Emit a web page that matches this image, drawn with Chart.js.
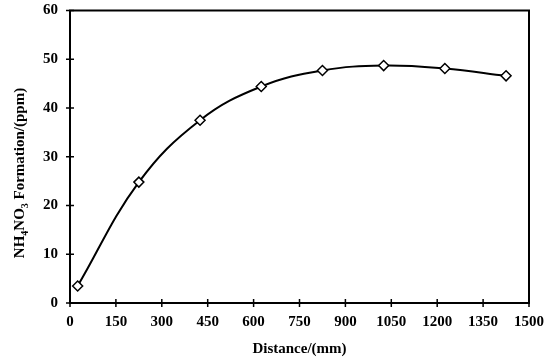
<!DOCTYPE html>
<html>
<head>
<meta charset="utf-8">
<script src="https://cdn.jsdelivr.net/npm/chart.js@4/dist/chart.umd.min.js"></script>
<style>
  html, body { margin: 0; padding: 0; background: #fff; }
  #wrap { width: 550px; height: 358px; }
</style>
</head>
<body>
<div id="wrap"><canvas id="c" width="550" height="358"></canvas></div>
<script>
// data
const distances = [25, 225, 425, 625, 825, 1025, 1225, 1425];
const nh4no3 = [3.5, 24.8, 37.5, 44.4, 47.7, 48.7, 48.1, 46.6];
const xTicks = [0, 150, 300, 450, 600, 750, 900, 1050, 1200, 1350, 1500];
const yTicks = [0, 10, 20, 30, 40, 50, 60];

const FONT = '"Liberation Serif", "Times New Roman", serif';

// frame, crossing ticks and the subscripted y title
const framePlugin = {
  id: 'frame',
  afterDraw(chart){
    const {ctx, chartArea:a, scales:{x, y}} = chart;
    ctx.save();
    ctx.strokeStyle = '#000';
    ctx.lineWidth = 2;
    ctx.strokeRect(a.left, a.top, a.right - a.left, a.bottom - a.top);
    ctx.lineWidth = 1.5;
    ctx.beginPath();
    xTicks.forEach(v => { const px = x.getPixelForValue(v); ctx.moveTo(px, a.bottom - 4); ctx.lineTo(px, a.bottom + 4); });
    yTicks.forEach(v => { const py = y.getPixelForValue(v); ctx.moveTo(a.left - 4, py); ctx.lineTo(a.left + 4, py); });
    ctx.stroke();

    // y axis title with subscripts
    const parts = [['NH',0],['4',1],['NO',0],['3',1],[' Formation/(ppm)',0]];
    const big = 'bold 15px ' + FONT, small = 'bold 10px ' + FONT;
    let w = 0;
    parts.forEach(p => { ctx.font = p[1] ? small : big; w += ctx.measureText(p[0]).width; });
    ctx.translate(20, 173);
    ctx.rotate(-Math.PI / 2);
    ctx.fillStyle = '#000';
    ctx.textBaseline = 'middle';
    let cx = -w / 2;
    parts.forEach(p => {
      ctx.font = p[1] ? small : big;
      ctx.fillText(p[0], cx, p[1] ? 5 : 0);
      cx += ctx.measureText(p[0]).width;
    });
    ctx.restore();
  }
};

const noPad = s => { s.paddingLeft = 0; s.paddingRight = 0; s.paddingTop = 0; s.paddingBottom = 0; };

new Chart(document.getElementById('c'), {
  type: 'line',
  data: {
    datasets: [{
      data: distances.map((d, i) => ({x: d, y: nh4no3[i]})),
      borderColor: '#000',
      borderWidth: 2,
      tension: 0.4,
      pointStyle: 'rectRot',
      pointRadius: 5,
      pointBorderWidth: 1.5,
      pointBackgroundColor: '#fff',
      pointBorderColor: '#000',
      fill: false
    }]
  },
  options: {
    responsive: false,
    animation: false,
    layout: { padding: { top: 10.5, right: 21, left: 0, bottom: 0 } },
    plugins: { legend: { display: false }, tooltip: { enabled: false } },
    scales: {
      x: {
        type: 'linear', min: 0, max: 1500,
        afterBuildTicks: s => { s.ticks = xTicks.map(v => ({value: v})); },
        afterFit: s => { s.height = 55; noPad(s); },
        grid: { display: false, drawTicks: false },
        border: { display: false },
        ticks: { color: '#000', font: { family: FONT, size: 15, weight: 'bold' }, padding: 10, maxRotation: 0, callback: v => String(v) },
        title: { display: true, text: 'Distance/(mm)', color: '#000', font: { family: FONT, size: 15, weight: 'bold' }, padding: { top: 2, bottom: 0 } }
      },
      y: {
        min: 0, max: 60,
        afterBuildTicks: s => { s.ticks = yTicks.map(v => ({value: v})); },
        afterFit: s => { s.width = 70; noPad(s); },
        grid: { display: false, drawTicks: false },
        border: { display: false },
        ticks: { color: '#000', font: { family: FONT, size: 15, weight: 'bold' }, padding: 12, callback: v => String(v) }
      }
    }
  },
  plugins: [framePlugin]
});
</script>
</body>
</html>
